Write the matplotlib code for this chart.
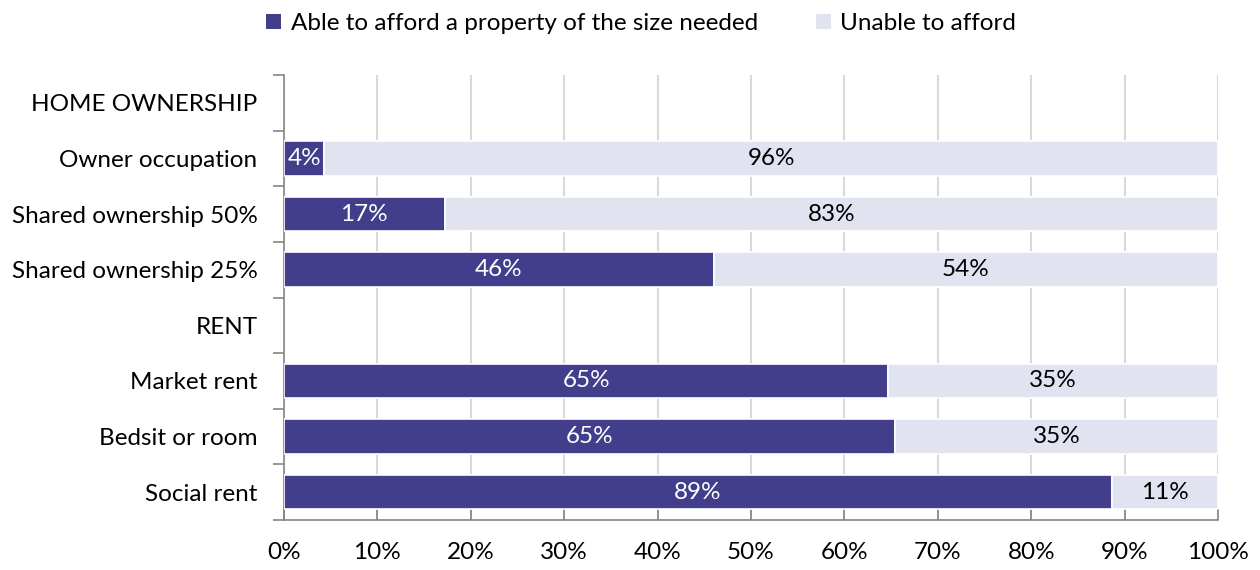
import matplotlib
matplotlib.use("Agg")
import matplotlib.pyplot as plt
from matplotlib.ticker import FixedLocator, PercentFormatter
from matplotlib.patches import Patch

plt.rcParams['font.family'] = ['Lato', 'DejaVu Sans']

categories = ["HOME OWNERSHIP", "Owner occupation", "Shared ownership 50%",
              "Shared ownership 25%", "RENT", "Market rent", "Bedsit or room",
              "Social rent"]
able = [None, 4.3, 17.2, 46.0, None, 64.7, 65.4, 88.6]
unable = [None, 95.7, 82.8, 54.0, None, 35.3, 34.6, 11.4]
series_names = ["Able to afford a property of the size needed", "Unable to afford"]
colors = ["#433E8B", "#E1E3F1"]
xticks = list(range(0, 101, 10))

FS = 17.5

fig = plt.figure(figsize=(12.6, 5.7), dpi=100)
ax = fig.add_axes([284 / 1260, 1 - 520 / 570, (1218 - 284) / 1260, (520 - 75) / 570])

n = len(categories)
ypos = list(range(n))
bar_h = 0.62
for i, (a, u) in enumerate(zip(able, unable)):
    if a is None:
        continue
    ax.barh(i, a, height=bar_h, color=colors[0], edgecolor="white", linewidth=1.2, zorder=3)
    ax.barh(i, u, left=a, height=bar_h, color=colors[1], edgecolor="white", linewidth=1.2, zorder=3)
    ax.text(a / 2, i, f"{a:.0f}%", ha="center", va="center", color="white", fontsize=FS, zorder=4)
    ax.text(a + u / 2, i, f"{u:.0f}%", ha="center", va="center", color="black", fontsize=FS, zorder=4)

ax.set_xlim(0, 100)
ax.set_ylim(n - 0.5, -0.5)
ax.set_yticks(ypos)
ax.set_yticklabels(categories, fontsize=FS)
ax.yaxis.set_minor_locator(FixedLocator([k - 0.5 for k in range(n + 1)]))
ax.tick_params(axis="y", which="major", length=0, pad=19)
ax.tick_params(axis="y", which="minor", length=8, width=1.2, color="#868686", direction="out")
ax.set_xticks(xticks)
ax.xaxis.set_major_formatter(PercentFormatter(decimals=0))
ax.tick_params(axis="x", length=8, width=1.2, color="#868686", direction="in", labelsize=FS, pad=16)
ax.grid(axis="x", color="#D9D9D9", linewidth=1.5, zorder=0)
ax.set_axisbelow(True)

for side in ["top", "right"]:
    ax.spines[side].set_visible(False)
for side in ["left", "bottom"]:
    ax.spines[side].set_color("#868686")
    ax.spines[side].set_linewidth(1.2)

handles = [Patch(facecolor=c, edgecolor="none") for c in colors]
fig.legend(handles, series_names, loc="upper center", bbox_to_anchor=(0.509, 1.015),
           ncol=2, frameon=False, fontsize=FS, handlelength=0.6, handleheight=0.6,
           handletextpad=0.4, columnspacing=2.4)

fig.savefig("out.png", dpi=100)
